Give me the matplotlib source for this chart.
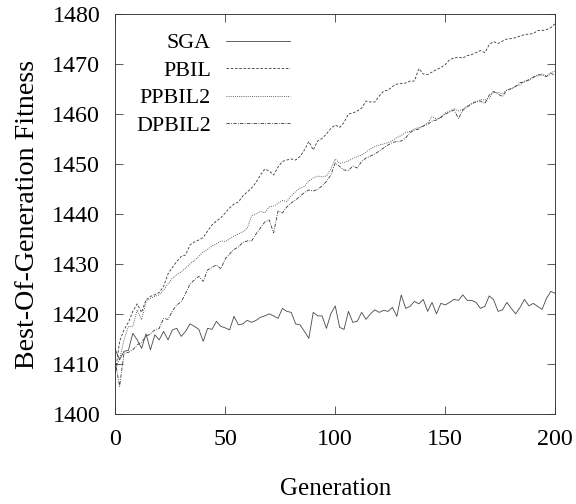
import matplotlib
matplotlib.use("Agg")
import matplotlib.pyplot as plt
import numpy as np

plt.rcParams['font.family'] = ['Liberation Serif', 'DejaVu Serif']

# generations (every 2nd generation)
gens = list(range(0, 201, 2))

sga = [1412.9, 1410.8, 1412.5, 1412.7, 1416.1, 1414.8, 1413.1, 1416.0, 1412.8, 1415.8,
       1414.8, 1416.5, 1414.8, 1416.8, 1417.1, 1415.5, 1416.5, 1418.0, 1417.5, 1416.9,
       1414.5, 1417.1, 1416.9, 1418.5, 1417.5, 1417.2, 1416.8, 1419.5, 1417.8, 1418.0,
       1418.7, 1418.3, 1418.7, 1419.3, 1419.6, 1420.0, 1419.6, 1419.1, 1421.1, 1420.5,
       1420.3, 1418.0, 1417.8, 1416.5, 1415.1, 1420.3, 1419.6, 1419.6, 1417.1, 1420.0,
       1421.6, 1417.3, 1416.9, 1420.5, 1418.3, 1418.5, 1420.3, 1418.9, 1420.0, 1420.8,
       1420.3, 1420.7, 1420.5, 1421.3, 1419.5, 1423.8, 1421.1, 1421.5, 1422.5, 1422.0,
       1422.9, 1420.5, 1422.3, 1420.0, 1422.1, 1421.8, 1422.3, 1422.9, 1422.7, 1423.8,
       1422.7, 1422.7, 1422.3, 1421.1, 1421.5, 1423.6, 1422.8, 1420.5, 1420.8, 1422.3,
       1421.1, 1420.0, 1421.3, 1422.9, 1421.6, 1422.1, 1421.5, 1420.9, 1423.1, 1424.5,
       1424.1]

pbil = [1408.0, 1414.5, 1416.8, 1418.3, 1420.5, 1422.0, 1420.3, 1422.8, 1423.5, 1423.8,
        1424.3, 1425.5, 1428.0, 1429.3, 1430.5, 1431.5, 1431.8, 1433.8, 1434.4, 1434.8,
        1435.3, 1436.6, 1437.8, 1438.6, 1439.2, 1440.2, 1441.2, 1442.0, 1442.4, 1443.6,
        1444.4, 1445.2, 1446.3, 1447.8, 1449.0, 1448.6, 1447.8, 1449.4, 1450.5, 1450.8,
        1451.0, 1450.8, 1451.5, 1452.8, 1454.5, 1452.8, 1454.6, 1455.1, 1456.0, 1457.1,
        1457.8, 1457.3, 1458.3, 1460.0, 1460.2, 1460.6, 1461.2, 1462.6, 1462.4, 1462.4,
        1463.6, 1464.6, 1464.8, 1465.5, 1466.0, 1466.1, 1466.2, 1466.6, 1466.6, 1469.1,
        1468.0, 1467.9, 1468.4, 1468.9, 1469.3, 1469.9, 1470.9, 1471.2, 1471.4, 1471.2,
        1471.7, 1471.9, 1472.3, 1472.7, 1472.3, 1473.9, 1474.5, 1474.1, 1474.6, 1475.0,
        1475.1, 1475.3, 1475.6, 1475.9, 1476.0, 1476.1, 1476.7, 1476.7, 1476.9, 1477.3,
        1478.1]

ppbil2 = [1408.8, 1411.0, 1414.8, 1417.5, 1417.5, 1420.8, 1418.8, 1422.5, 1423.1, 1423.5,
          1423.8, 1424.8, 1426.0, 1427.2, 1427.8, 1428.4, 1429.2, 1430.0, 1430.7, 1431.5,
          1432.4, 1432.9, 1433.6, 1434.0, 1434.6, 1434.5, 1435.0, 1435.6, 1436.0, 1436.4,
          1437.2, 1439.6, 1440.0, 1440.5, 1440.2, 1441.4, 1441.6, 1442.1, 1442.7, 1442.5,
          1443.6, 1444.5, 1445.2, 1445.5, 1446.6, 1447.2, 1447.6, 1447.4, 1447.6, 1449.0,
          1451.0, 1450.1, 1450.3, 1450.6, 1451.1, 1451.5, 1451.8, 1452.4, 1453.0, 1453.5,
          1453.8, 1454.0, 1454.3, 1454.7, 1455.3, 1455.7, 1456.3, 1456.5, 1457.0, 1457.3,
          1457.6, 1458.2, 1459.5, 1459.0, 1459.2, 1460.2, 1460.6, 1461.1, 1460.6, 1461.0,
          1461.6, 1462.0, 1462.4, 1462.9, 1462.8, 1463.2, 1464.4, 1464.3, 1464.1, 1464.8,
          1465.0, 1465.6, 1465.8, 1466.6, 1466.7, 1467.5, 1467.6, 1468.0, 1467.6, 1468.3,
          1468.6]

dpbil2 = [1410.5, 1405.5, 1412.1, 1412.3, 1412.8, 1413.8, 1414.3, 1415.5, 1416.0, 1416.8,
          1417.1, 1419.1, 1418.9, 1420.6, 1421.8, 1422.4, 1424.1, 1426.0, 1426.8, 1427.5,
          1426.5, 1428.8, 1429.3, 1429.8, 1429.0, 1431.0, 1432.0, 1432.9, 1433.4, 1434.3,
          1434.6, 1434.6, 1436.0, 1437.2, 1438.4, 1438.8, 1436.2, 1440.6, 1440.2, 1441.4,
          1442.2, 1442.8, 1443.5, 1444.3, 1444.8, 1444.6, 1444.9, 1445.6, 1446.5, 1447.8,
          1450.2, 1449.5, 1448.8, 1448.7, 1449.6, 1449.2, 1450.5, 1451.2, 1451.6, 1452.0,
          1452.6, 1453.2, 1453.8, 1454.3, 1454.5, 1454.6, 1455.2, 1456.3, 1456.8, 1457.0,
          1457.6, 1457.9, 1458.6, 1458.8, 1459.4, 1460.0, 1460.4, 1460.8, 1459.1, 1460.8,
          1461.4, 1462.1, 1462.5, 1462.6, 1462.1, 1463.8, 1464.5, 1464.0, 1463.5, 1464.8,
          1465.1, 1465.5, 1466.3, 1466.4, 1466.9, 1467.3, 1467.9, 1467.8, 1467.5, 1468.1,
          1467.8]

labels = ["SGA", "PBIL", "PPBIL2", "DPBIL2"]

fig = plt.figure(figsize=(8, 7), dpi=72)
ax = fig.add_axes([0.2, 0.179, 0.764, 0.793])

lc = "#3a3a3a"
ax.plot(gens, sga, color="#4a4a4a", lw=0.85, ls="-", label=labels[0])
ax.plot(gens, pbil, color=lc, lw=0.85, ls=(0, (3, 2)), label=labels[1])
ax.plot(gens, ppbil2, color=lc, lw=0.85, ls=(0, (1, 1.5)), label=labels[2])
ax.plot(gens, dpbil2, color=lc, lw=0.85, ls=(0, (4, 1.5, 1, 1.5)), label=labels[3])

ax.set_xlim(0, 200)
ax.set_ylim(1400, 1480)
ax.set_xticks([0, 50, 100, 150, 200])
ax.set_yticks(range(1400, 1481, 10))
ax.tick_params(direction="in", top=True, right=True, length=8, width=0.8,
               labelsize=24, pad=15, color="#333333")
for s in ax.spines.values():
    s.set_linewidth(0.9)
    s.set_color("#333333")

ax.set_xlabel("Generation", fontsize=25, labelpad=28)
ax.set_ylabel("Best-Of-Generation Fitness", fontsize=28, labelpad=12)

leg = ax.legend(loc="upper right", bbox_to_anchor=(290 / 576, 1 - 33 / 504),
                bbox_transform=fig.transFigure, markerfirst=False, frameon=False,
                fontsize=22, handlelength=2.9, handletextpad=0.7, labelspacing=0.32,
                borderaxespad=0, borderpad=0)

plt.savefig("out.png", dpi=72)
